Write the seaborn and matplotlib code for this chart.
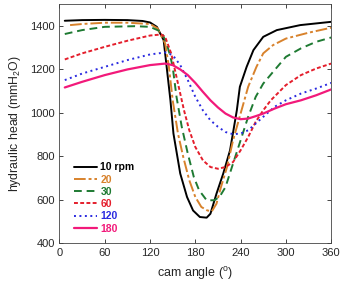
import numpy as np
import pandas as pd
import seaborn as sns
import matplotlib
matplotlib.use("Agg")
import matplotlib.pyplot as plt

sns.set_style("ticks")
plt.rcParams['font.family'] = ['Liberation Sans', 'DejaVu Sans']
plt.rcParams['mathtext.fontset'] = 'custom'
plt.rcParams['mathtext.rm'] = 'Liberation Sans'
plt.rcParams['mathtext.it'] = 'Liberation Sans'

labels = ["10 rpm", "20", "30", "60", "120", "180"]
colors = ["#000000", "#d8822c", "#1e7a32", "#e41e2c", "#2a2ae0", "#f2197a"]

x10 = [7, 30, 60, 90, 110, 120, 129, 138, 142, 147, 151, 160, 169, 177, 186, 195, 200, 208, 217, 226, 235, 239, 248, 257, 270, 288, 319, 360]
y10 = [1423, 1426, 1427, 1426, 1422, 1415, 1395, 1334, 1211, 1057, 904, 720, 612, 550, 520, 517, 535, 627, 720, 827, 1011, 1119, 1211, 1288, 1349, 1380, 1403, 1418]

x20 = [14, 30, 60, 90, 120, 130, 140, 145, 150, 157, 164, 172, 180, 188, 196, 202, 208, 214, 222, 230, 240, 250, 261, 270, 283, 300, 330, 360]
y20 = [1403, 1408, 1414, 1414, 1408, 1388, 1319, 1211, 1057, 904, 796, 689, 612, 566, 550, 547, 581, 658, 750, 873, 996, 1119, 1211, 1273, 1311, 1341, 1368, 1391]

x30 = [7, 30, 60, 100, 120, 135, 142, 147, 150, 155, 162, 170, 178, 185, 195, 205, 212, 220, 230, 240, 250, 260, 270, 285, 300, 320, 340, 360]
y30 = [1362, 1380, 1395, 1398, 1395, 1372, 1319, 1257, 1211, 1074, 935, 812, 704, 643, 597, 597, 612, 658, 766, 873, 981, 1073, 1134, 1196, 1257, 1296, 1326, 1346]

x60 = [7, 30, 60, 90, 120, 135, 140, 148, 155, 160, 165, 172, 180, 190, 200, 210, 220, 230, 240, 250, 260, 270, 280, 300, 320, 340, 360]
y60 = [1245, 1273, 1303, 1331, 1355, 1360, 1349, 1273, 1165, 1088, 1011, 919, 842, 781, 750, 742, 750, 773, 827, 888, 958, 1011, 1057, 1127, 1173, 1203, 1226]

x120 = [7, 30, 60, 90, 120, 140, 150, 160, 170, 180, 190, 200, 210, 220, 230, 240, 250, 260, 270, 285, 300, 320, 340, 360]
y120 = [1150, 1180, 1211, 1242, 1268, 1277, 1265, 1219, 1150, 1073, 1011, 965, 935, 911, 901, 904, 919, 950, 981, 1027, 1057, 1088, 1111, 1137]

x180 = [7, 30, 60, 90, 120, 140, 150, 160, 170, 180, 190, 200, 210, 220, 230, 240, 250, 260, 270, 285, 300, 320, 340, 360]
y180 = [1116, 1142, 1173, 1199, 1219, 1226, 1219, 1199, 1173, 1137, 1096, 1057, 1024, 996, 978, 970, 973, 984, 996, 1019, 1039, 1057, 1080, 1107]

xs = [x10, x20, x30, x60, x120, x180]
ys = [y10, y20, y30, y60, y120, y180]
styles = ["-", (0, (6, 1.5, 1.5, 1.5)), (0, (4, 2.5)), (0, (2, 1.2)), (0, (1, 1.8)), "-"]
widths = [1.4, 1.4, 1.4, 1.4, 1.4, 1.6]

fig = plt.figure(figsize=(3.4, 2.87), dpi=100)
ax = fig.add_axes([0.175, 0.153, 0.799, 0.833])

handles = []
for lab, c, xv, yv, ls, lw in zip(labels, colors, xs, ys, styles, widths):
    df = pd.DataFrame({"angle": xv, "head": yv})
    sns.lineplot(data=df, x="angle", y="head", ax=ax, color=c, linewidth=lw,
                 linestyle=ls, estimator=None, sort=False)
    handles.append(ax.lines[-1])

ax.set_xlim(0, 360)
ax.set_ylim(400, 1500)
ax.set_xticks([0, 60, 120, 180, 240, 300, 360])
ax.set_yticks([400, 600, 800, 1000, 1200, 1400])
ax.tick_params(direction="in", top=True, right=True, labelsize=8, length=3, width=0.6)
for s in ax.spines.values():
    s.set_linewidth(0.6)
    s.set_color("#444444")
ax.set_xlabel("cam angle ($^{\\rm o}$)", fontsize=9, labelpad=5)
ax.set_ylabel("hydraulic head (mmH$_2$O)", fontsize=8.8, labelpad=5)

leg = ax.legend(handles, labels, loc="lower left", bbox_to_anchor=(0.02, 0.0),
                frameon=False, handlelength=2.2, handletextpad=0.3,
                labelspacing=0.22, prop={"weight": "bold", "size": 7.5})
for t, c in zip(leg.get_texts(), colors):
    t.set_color(c)

fig.savefig("out.png", dpi=100)
